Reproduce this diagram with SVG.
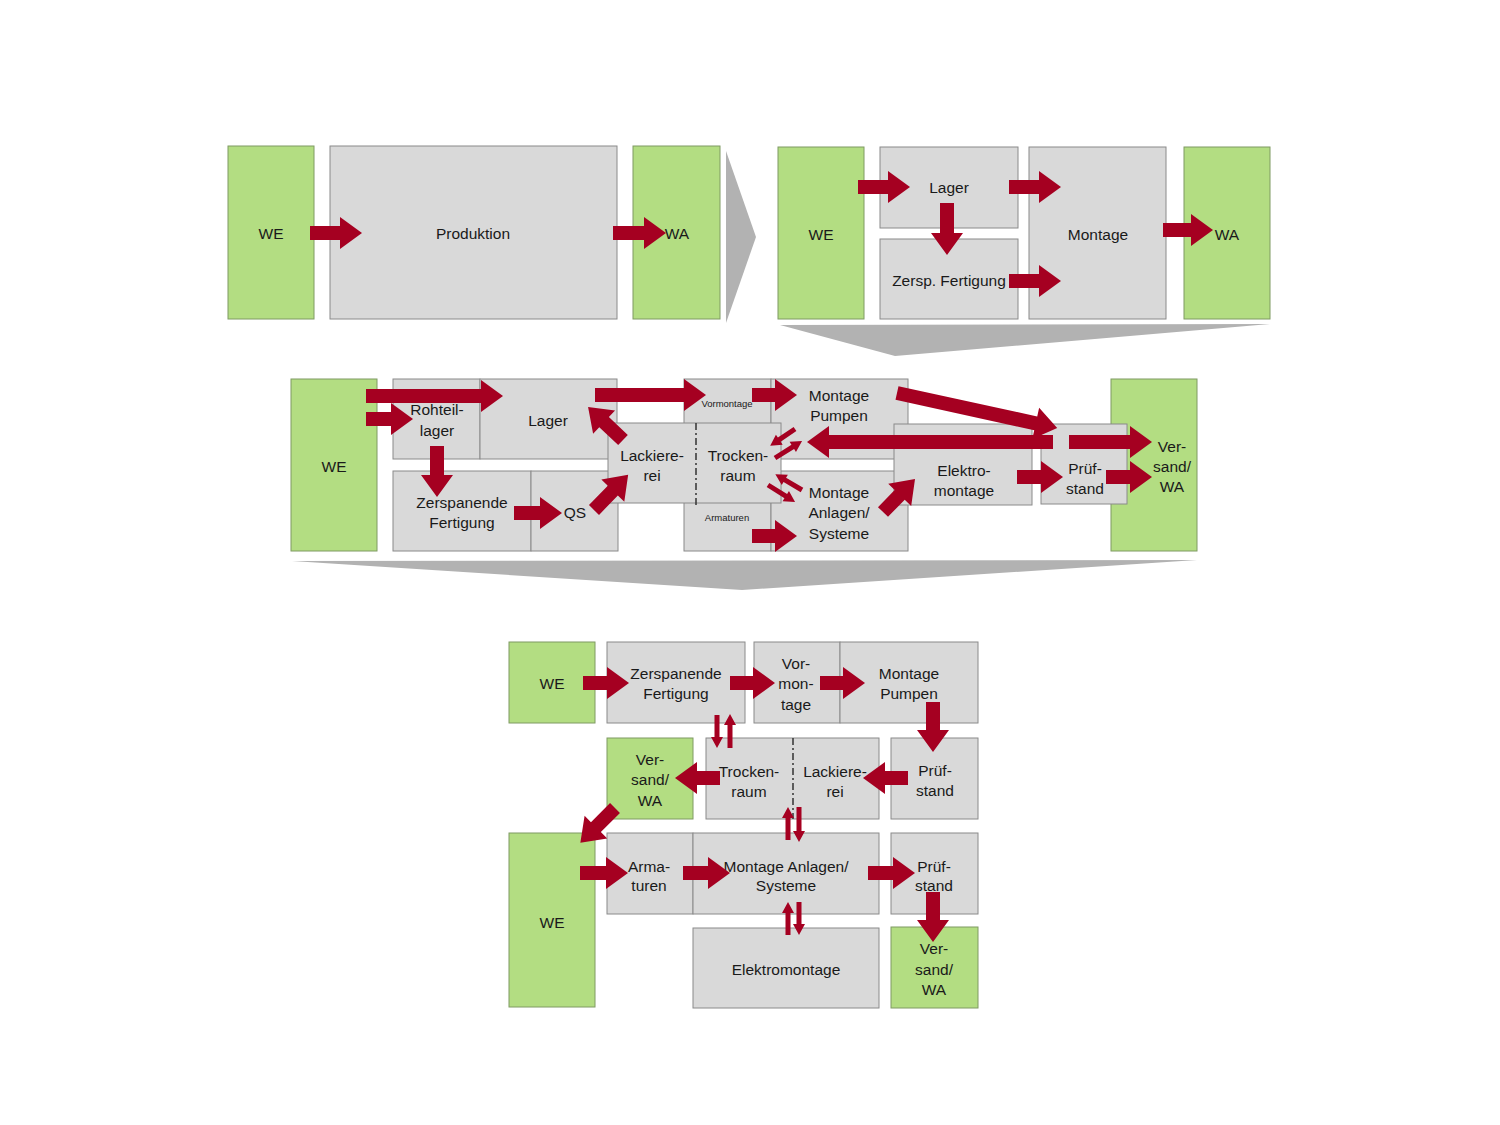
<svg xmlns="http://www.w3.org/2000/svg" width="1500" height="1125" viewBox="0 0 1500 1125">
<style>
.g{fill:#B3DD82;stroke:#7f9a63;stroke-width:1}
.p{fill:#D9D9D9;stroke:#8a8a8a;stroke-width:1}
.w{fill:#B2B2B2}
.a{fill:#A50021}
.d{stroke:#333;stroke-width:1.5;stroke-dasharray:7 3 2 3;fill:none}
text{font-family:"Liberation Sans",Arial,sans-serif;font-size:15.5px;fill:#1a1a1a;text-anchor:middle}
text.s{font-size:9.5px}
</style>
<rect width="1500" height="1125" fill="#fff"/>
<g id="transitions">
<polygon class="w" points="726,151 756,237 726,323"/>
<polygon class="w" points="780,325 1270,324 895,356"/>
<polygon class="w" points="292,561 1197,560 742,590"/>
</g>
<!-- Top left -->
<g id="t1-we"><rect class="g" x="228" y="146" width="86" height="173"/><text x="271" y="238.5">WE</text></g>
<g id="t1-prod"><rect class="p" x="330" y="146" width="287" height="173"/><text x="473" y="238.5">Produktion</text></g>
<g id="t1-wa"><rect class="g" x="633" y="146" width="87" height="173"/><text x="677" y="238.5">WA</text></g>
<!-- Top right -->
<g id="t2-we"><rect class="g" x="778" y="147" width="86" height="172"/><text x="821" y="239.5">WE</text></g>
<g id="t2-lager"><rect class="p" x="880" y="147" width="138" height="81"/><text x="949" y="193">Lager</text></g>
<g id="t2-zersp"><rect class="p" x="880" y="239" width="138" height="80"/><text x="949" y="285.5">Zersp. Fertigung</text></g>
<g id="t2-montage"><rect class="p" x="1029" y="147" width="137" height="172"/><text x="1098" y="239.5">Montage</text></g>
<g id="t2-wa"><rect class="g" x="1184" y="147" width="86" height="172"/><text x="1227" y="239.5">WA</text></g>
<!-- Middle -->
<g id="m-we"><rect class="g" x="291" y="379" width="86" height="172"/><text x="334" y="471.5">WE</text></g>
<g id="m-rohteil"><rect class="p" x="393" y="379" width="87" height="80"/><text x="437" y="414.5">Rohteil-</text><text x="437" y="435.5">lager</text></g>
<g id="m-lager"><rect class="p" x="480" y="379" width="137" height="80"/><text x="548" y="425.5">Lager</text></g>
<g id="m-zersp"><rect class="p" x="393" y="471" width="138" height="80"/><text x="462" y="507.5">Zerspanende</text><text x="462" y="527.5">Fertigung</text></g>
<g id="m-qs"><rect class="p" x="531" y="471" width="87" height="80"/><text x="575" y="517.5">QS</text></g>
<g id="m-vormontage"><rect class="p" x="684" y="379" width="87" height="80"/><text class="s" x="727" y="407">Vormontage</text></g>
<g id="m-armaturen"><rect class="p" x="684" y="471" width="87" height="80"/><text class="s" x="727" y="521">Armaturen</text></g>
<g id="m-pumpen"><rect class="p" x="771" y="379" width="137" height="80"/><text x="839" y="400.5">Montage</text><text x="839" y="420.5">Pumpen</text></g>
<g id="m-anlagen"><rect class="p" x="771" y="471" width="137" height="80"/><text x="839" y="497.5">Montage</text><text x="839" y="517.5">Anlagen/</text><text x="839" y="538.5">Systeme</text></g>
<g id="m-lack"><rect class="p" x="608" y="423" width="173" height="80"/><line class="d" x1="696" y1="423" x2="696" y2="505"/><text x="652" y="460.5">Lackiere-</text><text x="652" y="480.5">rei</text><text x="738" y="460.5">Trocken-</text><text x="738" y="480.5">raum</text></g>
<g id="m-elektro"><rect class="p" x="894" y="424" width="138" height="81"/><text x="964" y="475.5">Elektro-</text><text x="964" y="495.5">montage</text></g>
<g id="m-versand"><rect class="g" x="1111" y="379" width="86" height="172"/><text x="1172" y="452">Ver-</text><text x="1172" y="472">sand/</text><text x="1172" y="492">WA</text></g>
<g id="m-pruef"><rect class="p" x="1041" y="424" width="86" height="80"/><text x="1085" y="474">Prüf-</text><text x="1085" y="494">stand</text></g>
<!-- Bottom -->
<g id="b-we1"><rect class="g" x="509" y="642" width="86" height="81"/><text x="552" y="688.5">WE</text></g>
<g id="b-zersp"><rect class="p" x="607" y="642" width="138" height="81"/><text x="676" y="679">Zerspanende</text><text x="676" y="699">Fertigung</text></g>
<g id="b-vormontage"><rect class="p" x="754" y="642" width="86" height="81"/><text x="796" y="669">Vor-</text><text x="796" y="689">mon-</text><text x="796" y="709.5">tage</text></g>
<g id="b-pumpen"><rect class="p" x="840" y="642" width="138" height="81"/><text x="909" y="679">Montage</text><text x="909" y="699">Pumpen</text></g>
<g id="b-versand1"><rect class="g" x="607" y="738" width="86" height="81"/><text x="650" y="764.5">Ver-</text><text x="650" y="784.5">sand/</text><text x="650" y="805.5">WA</text></g>
<g id="b-lack"><rect class="p" x="706" y="738" width="173" height="81"/><line class="d" x1="793" y1="738" x2="793" y2="819"/><text x="749" y="777">Trocken-</text><text x="749" y="797">raum</text><text x="835" y="777">Lackiere-</text><text x="835" y="797">rei</text></g>
<g id="b-pruef1"><rect class="p" x="891" y="738" width="87" height="81"/><text x="935" y="775.5">Prüf-</text><text x="935" y="795.5">stand</text></g>
<g id="b-we2"><rect class="g" x="509" y="833" width="86" height="174"/><text x="552" y="927.5">WE</text></g>
<g id="b-armaturen"><rect class="p" x="607" y="833" width="86" height="81"/><text x="649" y="871.5">Arma-</text><text x="649" y="891">turen</text></g>
<g id="b-anlagen"><rect class="p" x="693" y="833" width="186" height="81"/><text x="786" y="871.5">Montage Anlagen/</text><text x="786" y="891">Systeme</text></g>
<g id="b-pruef2"><rect class="p" x="891" y="833" width="87" height="81"/><text x="934" y="871.5">Prüf-</text><text x="934" y="891">stand</text></g>
<g id="b-elektro"><rect class="p" x="693" y="928" width="186" height="80"/><text x="786" y="974.5">Elektromontage</text></g>
<g id="b-versand2"><rect class="g" x="891" y="927" width="87" height="81"/><text x="934" y="953.5">Ver-</text><text x="934" y="974.5">sand/</text><text x="934" y="994.5">WA</text></g>
<g id="connectors">
<!-- top left -->
<path class="a" transform="translate(310,233)" d="M0,-7H30V-16L52,0L30,16V7H0Z"/>
<path class="a" transform="translate(613,233)" d="M0,-7H31V-16L53,0L31,16V7H0Z"/>
<!-- top right -->
<path class="a" transform="translate(858,187)" d="M0,-7H30V-16L52,0L30,16V7H0Z"/>
<path class="a" transform="translate(1009,187)" d="M0,-7H30V-16L52,0L30,16V7H0Z"/>
<path class="a" transform="translate(947,203) rotate(90)" d="M0,-7H30V-16L52,0L30,16V7H0Z"/>
<path class="a" transform="translate(1009,281)" d="M0,-7H30V-16L52,0L30,16V7H0Z"/>
<path class="a" transform="translate(1163,230)" d="M0,-7H28V-16L50,0L28,16V7H0Z"/>
<!-- middle -->
<path class="a" transform="translate(366,396)" d="M0,-7H115V-16L137,0L115,16V7H0Z"/>
<path class="a" transform="translate(366,419)" d="M0,-7H25V-16L47,0L25,16V7H0Z"/>
<path class="a" transform="translate(437,446) rotate(90)" d="M0,-7H29V-16L51,0L29,16V7H0Z"/>
<path class="a" transform="translate(514,513)" d="M0,-7H26V-16L48,0L26,16V7H0Z"/>
<path class="a" transform="translate(594,510) rotate(-45.8)" d="M0,-7H27V-16L49,0L27,16V7H0Z"/>
<path class="a" transform="translate(623,440) rotate(-136.7)" d="M0,-7H26V-16L48,0L26,16V7H0Z"/>
<path class="a" transform="translate(595,395)" d="M0,-7H89V-16L111,0L89,16V7H0Z"/>
<path class="a" transform="translate(752,395)" d="M0,-7H23V-16L45,0L23,16V7H0Z"/>
<path class="a" transform="translate(897,393) rotate(12.34)" d="M0,-7H142V-16L164,0L142,16V7H0Z"/>
<path class="a" transform="translate(1053,442) rotate(180)" d="M0,-7H224V-16L246,0L224,16V7H0Z"/>
<path class="a" transform="translate(1069,442)" d="M0,-7H61V-16L83,0L61,16V7H0Z"/>
<path class="a" transform="translate(1017,477)" d="M0,-7H24V-16L46,0L24,16V7H0Z"/>
<path class="a" transform="translate(1106,477)" d="M0,-7H24V-16L46,0L24,16V7H0Z"/>
<path class="a" transform="translate(883,512) rotate(-45.9)" d="M0,-7H24V-16L46,0L24,16V7H0Z"/>
<path class="a" transform="translate(752,536)" d="M0,-7H23V-16L45,0L23,16V7H0Z"/>
<path class="a" transform="translate(795,429) rotate(145.8)" d="M0,-2.5H19V-6L30,0L19,6V2.5H0Z"/>
<path class="a" transform="translate(775,458) rotate(-32.2)" d="M0,-2.5H21V-6L32,0L21,6V2.5H0Z"/>
<path class="a" transform="translate(802,490) rotate(-149.3)" d="M0,-2.5H20V-6L31,0L20,6V2.5H0Z"/>
<path class="a" transform="translate(768,485) rotate(32.2)" d="M0,-2.5H21V-6L32,0L21,6V2.5H0Z"/>
<!-- bottom -->
<path class="a" transform="translate(583,683)" d="M0,-7H24V-16L46,0L24,16V7H0Z"/>
<path class="a" transform="translate(730,683)" d="M0,-7H23V-16L45,0L23,16V7H0Z"/>
<path class="a" transform="translate(820,683)" d="M0,-7H23V-16L45,0L23,16V7H0Z"/>
<path class="a" transform="translate(933,702) rotate(90)" d="M0,-7H28V-16L50,0L28,16V7H0Z"/>
<path class="a" transform="translate(908,778) rotate(180)" d="M0,-7H23V-16L45,0L23,16V7H0Z"/>
<path class="a" transform="translate(720,778) rotate(180)" d="M0,-7H23V-16L45,0L23,16V7H0Z"/>
<path class="a" transform="translate(615,808) rotate(135)" d="M0,-7H27V-16L49,0L27,16V7H0Z"/>
<path class="a" transform="translate(580,873)" d="M0,-7H26V-16L48,0L26,16V7H0Z"/>
<path class="a" transform="translate(683,873)" d="M0,-7H25V-16L47,0L25,16V7H0Z"/>
<path class="a" transform="translate(868,873)" d="M0,-7H25V-16L47,0L25,16V7H0Z"/>
<path class="a" transform="translate(933,892) rotate(90)" d="M0,-7H28V-16L50,0L28,16V7H0Z"/>
<path class="a" transform="translate(717,715) rotate(90)" d="M0,-2.5H22V-6L33,0L22,6V2.5H0Z"/>
<path class="a" transform="translate(730,748) rotate(-90)" d="M0,-2.5H23V-6L34,0L23,6V2.5H0Z"/>
<path class="a" transform="translate(788,840) rotate(-90)" d="M0,-2.5H22V-6L33,0L22,6V2.5H0Z"/>
<path class="a" transform="translate(799,807) rotate(90)" d="M0,-2.5H24V-6L35,0L24,6V2.5H0Z"/>
<path class="a" transform="translate(788,935) rotate(-90)" d="M0,-2.5H22V-6L33,0L22,6V2.5H0Z"/>
<path class="a" transform="translate(799,902) rotate(90)" d="M0,-2.5H22V-6L33,0L22,6V2.5H0Z"/>
</g>
</svg>
